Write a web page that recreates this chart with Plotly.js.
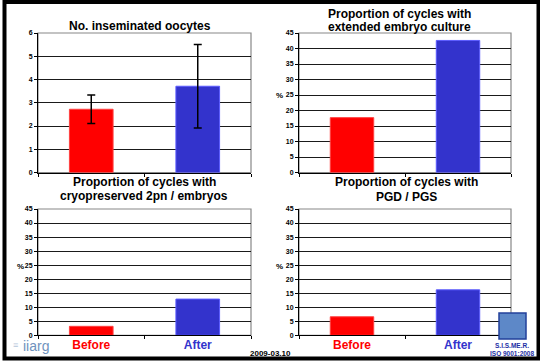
<!DOCTYPE html>
<html>
<head>
<meta charset="utf-8">
<script src="https://cdn.plot.ly/plotly-3.0.1.min.js"></script>
<style>
html,body{margin:0;padding:0;background:#fff;}
#chart{width:540px;height:362px;}
</style>
</head>
<body>
<div id="chart"></div>
<script>
// ---- data ----
const categories = ['Before', 'After'];
const inseminatedOocytes = [2.72, 3.71];
const inseminatedOocytesErr = [0.61, 1.8];
const extendedCulture = [17.7, 42.6];
const cryopreserved = [3.2, 12.9];
const pgdPgs = [6.6, 16.2];
const panelTitles = [
  ['No. inseminated oocytes'],
  ['Proportion of cycles with', 'extended embryo culture'],
  ['Proportion of cycles with', 'cryopreserved 2pn / embryos'],
  ['Proportion of cycles with', 'PGD / PGS']
];
const ticksOocytes = [0, 1, 2, 3, 4, 5, 6];
const ticksPercent = [0, 5, 10, 15, 20, 25, 30, 35, 40, 45];
const footerDate = '2009-03.10';

// ---- style ----
const FONT = 'Liberation Sans, Arial, sans-serif';
const barColors = ['#ff0000', '#3333cc'];
const barLines = ['#ff4040', '#5a5aff'];
const W = 540, H = 362;
const px = x => x / W;
const py = y => (H - y) / H;

const doms = [
  {x: [px(38), px(251)], y: [py(172.5), py(33)]},
  {x: [px(299), px(511)], y: [py(172.5), py(33)]},
  {x: [px(38), px(251)], y: [py(335.3), py(209)]},
  {x: [px(299), px(511)], y: [py(335.3), py(209)]}
];

function barTrace(vals, idx, err) {
  const t = {
    type: 'bar',
    x: categories,
    y: vals,
    width: 0.41,
    marker: {color: barColors, line: {color: barLines, width: 1}},
    xaxis: 'x' + (idx === 0 ? '' : idx + 1),
    yaxis: 'y' + (idx === 0 ? '' : idx + 1),
    hoverinfo: 'none',
    showlegend: false
  };
  if (err) {
    t.error_y = {type: 'data', array: err, symmetric: true, color: '#000', thickness: 1.5, width: 4};
  }
  return t;
}

const data = [
  barTrace(inseminatedOocytes, 0, inseminatedOocytesErr),
  barTrace(extendedCulture, 1),
  barTrace(cryopreserved, 2),
  barTrace(pgdPgs, 3)
];

const layout = {
  width: W, height: H,
  margin: {l: 0, r: 0, t: 0, b: 0},
  paper_bgcolor: '#fff',
  plot_bgcolor: '#fff',
  showlegend: false,
  font: {family: FONT, color: '#000'},
  annotations: [],
  shapes: []
};

const tickFont = {family: FONT, size: 7, color: '#000', weight: 'bold'};
const catLabels = categories.map((c, i) => '<span style="color:' + barColors[i] + '">' + c + '</span>');

doms.forEach((d, i) => {
  const xk = 'xaxis' + (i === 0 ? '' : i + 1);
  const yk = 'yaxis' + (i === 0 ? '' : i + 1);
  const yid = 'y' + (i === 0 ? '' : i + 1);
  const xid = 'x' + (i === 0 ? '' : i + 1);
  const bottom = i >= 2;
  layout[xk] = {
    domain: d.x, anchor: yid, type: 'category',
    range: [-0.5, 1.5],
    tickson: 'boundaries', ticks: 'outside', ticklen: 3, tickcolor: '#000', tickwidth: 1,
    showticklabels: bottom,
    tickvals: categories, ticktext: catLabels,
    tickfont: {family: FONT, size: 12, weight: 'bold'},
    ticklabelstandoff: -2,
    showline: true, linecolor: '#000', linewidth: 1,
    showgrid: false, zeroline: false, fixedrange: true
  };
  const ticks = i === 0 ? ticksOocytes : ticksPercent;
  layout[yk] = {
    domain: d.y, anchor: xid,
    range: [0, ticks[ticks.length - 1]],
    tickvals: ticks,
    ticks: 'outside', ticklen: 3, tickcolor: '#000', tickwidth: 1,
    tickfont: tickFont,
    showline: true, linecolor: '#000', linewidth: 1,
    showgrid: true, gridcolor: '#1a1a1a', gridwidth: 1,
    zeroline: false, fixedrange: true
  };
  // plot-area border (right/top) in grey
  layout.shapes.push({
    type: 'rect', xref: xid + ' domain', yref: yid + ' domain',
    x0: 0, x1: 1, y0: 0, y1: 1,
    line: {color: '#888', width: 1.2}, layer: 'below'
  });
});

// titles
const titlePos = [
  {x: 140, ys: [26]},
  {x: 399, ys: [13.5, 27.5]},
  {x: 144, ys: [181.5, 196]},
  {x: 406, ys: [181.5, 196.5]}
];
panelTitles.forEach((lines, i) => {
  lines.forEach((txt, j) => {
    layout.annotations.push({
      xref: 'paper', yref: 'paper', x: px(titlePos[i].x), y: py(titlePos[i].ys[j]),
      xanchor: 'center', yanchor: 'middle', showarrow: false,
      text: '<b>' + txt + '</b>',
      font: {family: FONT, size: 12, color: '#000'}
    });
  });
});

// "%" labels
[[279.5, 95.5], [20, 266], [279.5, 266]].forEach(p => {
  layout.annotations.push({
    xref: 'paper', yref: 'paper', x: px(p[0]), y: py(p[1]),
    xanchor: 'center', yanchor: 'middle', showarrow: false,
    text: '<b>%</b>', font: {family: FONT, size: 8, color: '#000'}
  });
});

// footer texts / logos
layout.annotations.push({
  xref: 'paper', yref: 'paper', x: px(270), y: py(353.5),
  xanchor: 'center', yanchor: 'middle', showarrow: false,
  text: '<b>' + footerDate + '</b>', font: {family: FONT, size: 8, color: '#000'}
});
layout.annotations.push({
  xref: 'paper', yref: 'paper', x: px(15), y: py(345),
  xanchor: 'center', yanchor: 'middle', showarrow: false,
  text: '≡', font: {family: FONT, size: 9, color: '#b5c6da'}
});
layout.annotations.push({
  xref: 'paper', yref: 'paper', x: px(36), y: py(345.5),
  xanchor: 'center', yanchor: 'middle', showarrow: false,
  text: 'iiarg', font: {family: FONT, size: 14, color: '#7092bd'}
});
layout.annotations.push({
  xref: 'paper', yref: 'paper', x: px(512), y: py(345),
  xanchor: 'center', yanchor: 'middle', showarrow: false,
  text: '<b>S.I.S.ME.R.</b>', font: {family: FONT, size: 6.5, color: '#1d2fa5'}
});
layout.annotations.push({
  xref: 'paper', yref: 'paper', x: px(512), y: py(353),
  xanchor: 'center', yanchor: 'middle', showarrow: false,
  text: '<b>ISO 9001:2008</b>', font: {family: FONT, size: 6.5, color: '#1d2fa5'}
});
layout.shapes.push({
  type: 'rect', xref: 'paper', yref: 'paper',
  x0: px(499), x1: px(526), y0: py(339), y1: py(313),
  fillcolor: '#5d88c8', line: {color: '#22409a', width: 1.5}
});
// outer black frame
layout.shapes.push({
  type: 'rect', xref: 'paper', yref: 'paper',
  x0: px(4.5), x1: px(538.5), y0: py(358.5), y1: py(2),
  line: {color: '#000', width: 4}
});

Plotly.newPlot('chart', data, layout, {staticPlot: true, displayModeBar: false});
</script>
</body>
</html>
